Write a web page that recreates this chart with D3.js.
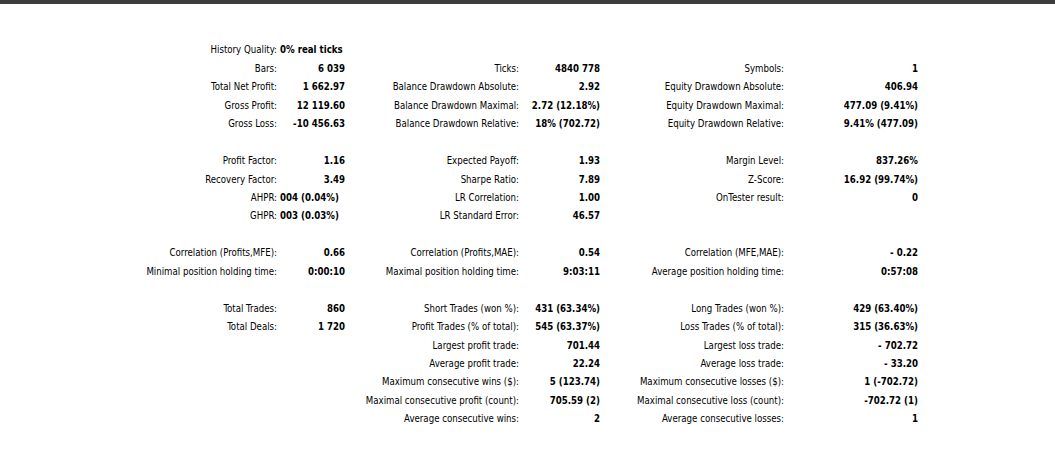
<!DOCTYPE html>
<html><head><meta charset="utf-8">
<script src="https://cdn.jsdelivr.net/npm/d3@7"></script>
<style>
body{margin:0;background:#fff;}
text{font-family:"DejaVu Sans Condensed","DejaVu Sans",sans-serif;font-size:9.6px;fill:#000;}
.val{font-weight:bold;}
</style></head><body>
<svg id="chart" width="1055" height="451"></svg>
<script>
// row slots (gaps between groups are empty slots)
const col1Slots = [1, 2, 3, 4, 6, 7, 8, 9, 11, 12, 14, 15];
const col1Labels = ['Bars:', 'Total Net Profit:', 'Gross Profit:', 'Gross Loss:', 'Profit Factor:', 'Recovery Factor:', 'AHPR:', 'GHPR:', 'Correlation (Profits,MFE):', 'Minimal position holding time:', 'Total Trades:', 'Total Deals:'];
const col1Values = ['6 039', '1 662.97', '12 119.60', '-10 456.63', '1.16', '3.49', '', '', '0.66', '0:00:10', '860', '1 720'];
const col1Inline = ['', '', '', '', '', '', '004 (0.04%)', '003 (0.03%)', '', '', '', ''];

const col2Slots = [1, 2, 3, 4, 6, 7, 8, 9, 11, 12, 14, 15, 16, 17, 18, 19, 20];
const col2Labels = ['Ticks:', 'Balance Drawdown Absolute:', 'Balance Drawdown Maximal:', 'Balance Drawdown Relative:', 'Expected Payoff:', 'Sharpe Ratio:', 'LR Correlation:', 'LR Standard Error:', 'Correlation (Profits,MAE):', 'Maximal position holding time:', 'Short Trades (won %):', 'Profit Trades (% of total):', 'Largest profit trade:', 'Average profit trade:', 'Maximum consecutive wins ($):', 'Maximal consecutive profit (count):', 'Average consecutive wins:'];
const col2Values = ['4840 778', '2.92', '2.72 (12.18%)', '18% (702.72)', '1.93', '7.89', '1.00', '46.57', '0.54', '9:03:11', '431 (63.34%)', '545 (63.37%)', '701.44', '22.24', '5 (123.74)', '705.59 (2)', '2'];

const col3Slots = [1, 2, 3, 4, 6, 7, 8, 11, 12, 14, 15, 16, 17, 18, 19, 20];
const col3Labels = ['Symbols:', 'Equity Drawdown Absolute:', 'Equity Drawdown Maximal:', 'Equity Drawdown Relative:', 'Margin Level:', 'Z-Score:', 'OnTester result:', 'Correlation (MFE,MAE):', 'Average position holding time:', 'Long Trades (won %):', 'Loss Trades (% of total):', 'Largest loss trade:', 'Average loss trade:', 'Maximum consecutive losses ($):', 'Maximal consecutive loss (count):', 'Average consecutive losses:'];
const col3Values = ['1', '406.94', '477.09 (9.41%)', '9.41% (477.09)', '837.26%', '16.92 (99.74%)', '0', '- 0.22', '0:57:08', '429 (63.40%)', '315 (36.63%)', '- 702.72', '- 33.20', '1 (-702.72)', '-702.72 (1)', '1'];

const svg = d3.select('#chart');
const y = d3.scaleLinear().domain([0, 20]).range([50, 419]);

svg.append('rect').attr('x', 0).attr('y', 0).attr('width', 1055).attr('height', 4).attr('fill', '#3c3c3c');

// history quality header
svg.append('text').attr('x', 277).attr('y', y(0)).attr('dy', '0.35em').attr('text-anchor', 'end').text('History Quality:');
svg.append('text').attr('class', 'val').attr('x', 280).attr('y', y(0)).attr('dy', '0.35em').text('0% real ticks');

const drawColumn = (slots, labels, values, labelX, valueX, inline) => {
	const g = svg.append('g');
	const rows = g.selectAll('g').data(slots.map((s, i) => ({ s, label: labels[i], value: values[i], inl: inline ? inline[i] : '' })))
		.enter().append('g');
	rows.append('text')
		.attr('x', labelX).attr('y', (d) => y(d.s)).attr('dy', '0.35em')
		.attr('text-anchor', 'end').text((d) => d.label);
	rows.append('text').attr('class', 'val')
		.attr('x', valueX).attr('y', (d) => y(d.s)).attr('dy', '0.35em')
		.attr('text-anchor', 'end').text((d) => d.value);
	rows.filter((d) => d.inl).append('text').attr('class', 'val')
		.attr('x', labelX + 3).attr('y', (d) => y(d.s)).attr('dy', '0.35em')
		.text((d) => d.inl);
};

drawColumn(col1Slots, col1Labels, col1Values, 277, 345, col1Inline);
drawColumn(col2Slots, col2Labels, col2Values, 519, 600);
drawColumn(col3Slots, col3Labels, col3Values, 784, 918);
</script></body></html>
